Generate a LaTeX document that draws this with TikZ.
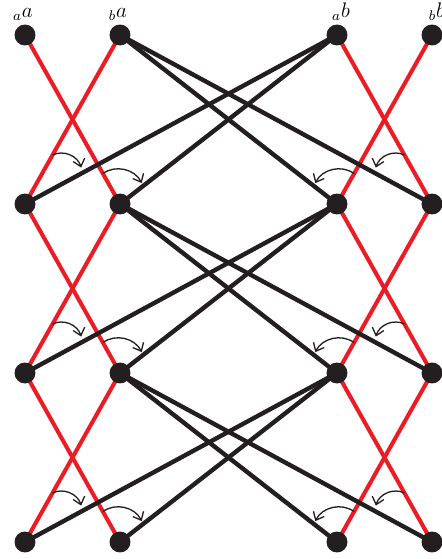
\documentclass[tikz,border=0pt]{standalone}
\usepackage{tikz}
\usetikzlibrary{arrows.meta, calc, backgrounds}
\definecolor{linkred}{HTML}{ED1C24}
\definecolor{dotblack}{HTML}{231F20}
\tikzset{
  dot/.style     = {circle, fill=dotblack, inner sep=0pt, minimum size=0.42cm},
  redlink/.style = {draw=linkred, line width=2.3pt},
  blklink/.style = {draw=dotblack, line width=2.5pt},
  turn/.style    = {-{Straight Barb[length=1.4mm, width=2.4mm]}, line width=0.75pt, draw=dotblack},
  toplbl/.style  = {font=\large, inner sep=2pt},
}

\begin{document}
\begin{tikzpicture}[x=0.02cm, y=0.02cm]
    \useasboundingbox (0,0) rectangle (442,559);

    % top row, with labels
    \node[dot, label={[toplbl, xshift=-0.04cm]above:${}_a a$}] (n-1-1) at (25,524)  {};
    \node[dot, label={[toplbl, xshift=-0.04cm]above:${}_b a$}] (n-1-2) at (120,524) {};
    \node[dot, label={[toplbl, xshift=0.08cm]above:${}_a b$}]  (n-1-3) at (337,524) {};
    \node[dot, label={[toplbl, xshift=0.1cm]above:${}_b b$}]   (n-1-4) at (432,524) {};

    % lower rows
    \foreach \r/\y in {2/355, 3/186, 4/17}
      \foreach \c/\x in {1/25, 2/120, 3/337, 4/432}
        \node[dot] (n-\r-\c) at (\x,\y) {};

    \begin{scope}[on background layer]
      \foreach \r/\s in {1/2, 2/3, 3/4} {
        \draw[redlink] (n-\r-1.center) -- (n-\s-2.center);
        \draw[redlink] (n-\r-2.center) -- (n-\s-1.center);
        \draw[redlink] (n-\r-3.center) -- (n-\s-4.center);
        \draw[redlink] (n-\r-4.center) -- (n-\s-3.center);
      }
      \foreach \r/\s in {1/2, 2/3, 3/4} {
        \draw[blklink] (n-\r-2.center) -- (n-\s-3.center);
        \draw[blklink] (n-\r-2.center) -- (n-\s-4.center);
        \draw[blklink] (n-\r-3.center) -- (n-\s-1.center);
        \draw[blklink] (n-\r-3.center) -- (n-\s-2.center);
      }
    \end{scope}

    % turning arrows from the red link to the black link
    \foreach \r/\s in {1/2, 2/3, 3/4} {
      \draw[turn] ($(n-\r-2)!0.71!(n-\s-1)$) to[bend left=50]  ($(n-\r-3)!0.82!(n-\s-1)+(0,6)$);
      \draw[turn] ($(n-\r-1)!0.82!(n-\s-2)$) to[bend left=50]  ($(n-\r-3)!0.9!(n-\s-2)+(0,4)$);
      \draw[turn] ($(n-\r-4)!0.82!(n-\s-3)$) to[bend right=50] ($(n-\r-2)!0.9!(n-\s-3)+(0,4)$);
      \draw[turn] ($(n-\r-3)!0.71!(n-\s-4)$) to[bend right=50] ($(n-\r-2)!0.82!(n-\s-4)+(0,6)$);
    }
\end{tikzpicture}
\end{document}
